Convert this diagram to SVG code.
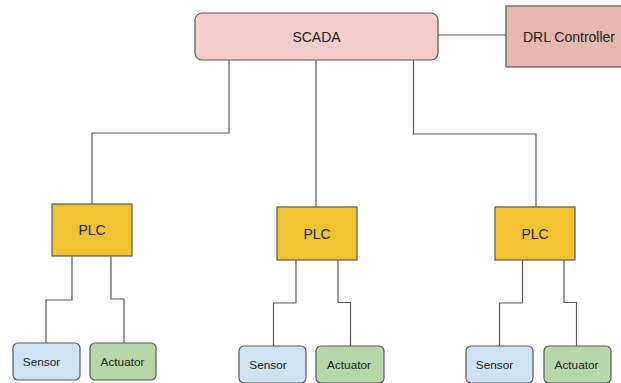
<svg xmlns="http://www.w3.org/2000/svg" width="621" height="383" viewBox="0 0 621 383">
  <style>
    .box { stroke: #595959; stroke-width: 1.2; }
    .scada { fill: #f4cccc; }
    .drl { fill: #e6b8af; }
    .plc { fill: #f1c232; }
    .sensor { fill: #cfe2f3; }
    .actuator { fill: #b6d7a8; }
    .wire { fill: none; stroke: #595959; stroke-width: 1.2; }
    text { font-family: "Liberation Sans", Arial, sans-serif; fill: #222; text-anchor: middle; dominant-baseline: central; }
    .big { font-size: 14px; }
    .small { font-size: 11.8px; }
  </style>
  <rect width="621" height="383" fill="#ffffff"/>

  <g id="connectors">
    <path class="wire" d="M438 35 H506"/>
    <path class="wire" d="M229 60 V133 H92 V204"/>
    <path class="wire" d="M316 60 V207"/>
    <path class="wire" d="M413.5 60 V134 H536 V207"/>
    <!-- PLC 1 -->
    <path class="wire" d="M72 256 V300 H46 V343"/>
    <path class="wire" d="M111 256 V299 H124 V343"/>
    <!-- PLC 2 -->
    <path class="wire" d="M296 260 V303 H273.5 V346"/>
    <path class="wire" d="M338 260 V302.5 H350.5 V346"/>
    <!-- PLC 3 -->
    <path class="wire" d="M522.5 260 V303 H499.5 V346"/>
    <path class="wire" d="M564 260 V302.5 H576.5 V346"/>
  </g>

  <g id="scada">
    <rect class="box scada" x="195" y="13" width="243" height="47" rx="7"/>
    <text class="big" x="316.5" y="37">SCADA</text>
  </g>
  <g id="drl-controller">
    <rect class="box drl" x="506" y="6" width="120" height="61"/>
    <text class="big" x="569" y="37">DRL Controller</text>
  </g>

  <g id="plc-1">
    <rect class="box plc" x="52" y="204" width="80" height="52"/>
    <text class="big" x="92" y="230">PLC</text>
  </g>
  <g id="plc-2">
    <rect class="box plc" x="277" y="207" width="80" height="53"/>
    <text class="big" x="317" y="234">PLC</text>
  </g>
  <g id="plc-3">
    <rect class="box plc" x="495" y="207" width="80" height="53"/>
    <text class="big" x="535" y="234">PLC</text>
  </g>

  <g id="sensor-1">
    <rect class="box sensor" x="13" y="343" width="67" height="37" rx="5"/>
    <text class="small" x="41.5" y="362">Sensor</text>
  </g>
  <g id="actuator-1">
    <rect class="box actuator" x="90" y="343" width="66" height="37" rx="5"/>
    <text class="small" x="122.5" y="362">Actuator</text>
  </g>
  <g id="sensor-2">
    <rect class="box sensor" x="239" y="346" width="67" height="37" rx="5"/>
    <text class="small" x="268" y="365">Sensor</text>
  </g>
  <g id="actuator-2">
    <rect class="box actuator" x="316" y="346" width="68" height="37" rx="5"/>
    <text class="small" x="349" y="365">Actuator</text>
  </g>
  <g id="sensor-3">
    <rect class="box sensor" x="466" y="346" width="67" height="37" rx="5"/>
    <text class="small" x="494.5" y="365">Sensor</text>
  </g>
  <g id="actuator-3">
    <rect class="box actuator" x="544" y="346" width="67" height="37" rx="5"/>
    <text class="small" x="576.5" y="365">Actuator</text>
  </g>
</svg>
